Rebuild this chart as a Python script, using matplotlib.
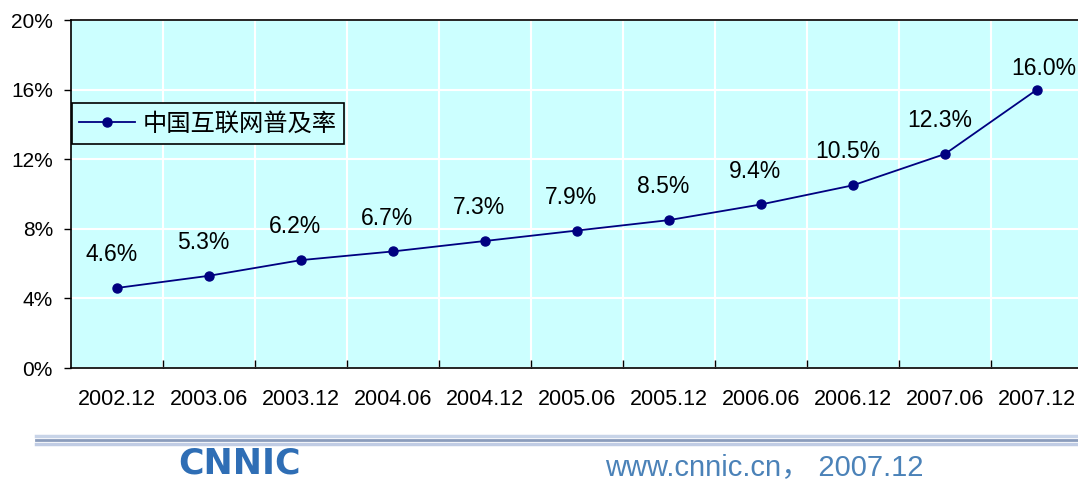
import matplotlib
matplotlib.use("Agg")
import matplotlib.pyplot as plt
from matplotlib.lines import Line2D

categories = ["2002.12", "2003.06", "2003.12", "2004.06", "2004.12", "2005.06",
              "2005.12", "2006.06", "2006.12", "2007.06", "2007.12"]
rates = [4.6, 5.3, 6.2, 6.7, 7.3, 7.9, 8.5, 9.4, 10.5, 12.3, 16.0]
yticks = [0, 4, 8, 12, 16, 20]
series_name = "中国互联网普及率"

plt.rcParams['font.family'] = ['Liberation Sans', 'DejaVu Sans']

fig = plt.figure(figsize=(10.78, 4.82), dpi=100)
W, H = 1078, 482
ax = fig.add_axes([71 / W, (H - 368) / H, 1012 / W, 348 / H])
ax.set_facecolor("#CCFFFF")

x = list(range(len(categories)))
ax.plot(x, rates, color="#000080", lw=1.3, marker="o", ms=6.5, zorder=3,
        label=series_name, clip_on=False)

for i, v in enumerate(rates):
    off = 24 if i < len(rates) - 1 else 15
    dx = -4 if i < len(rates) - 1 else 5
    ax.annotate(f"{v:.1f}%", (i, v), xytext=(dx, off), textcoords="offset points",
                ha="center", va="center", fontsize=16.5, color="black")

ax.set_xlim(-0.5, len(categories) - 0.5)
ax.set_ylim(0, 20)
ax.set_yticks(yticks)
ax.set_yticklabels([f"{t}%" for t in yticks], fontsize=15)
ax.tick_params(axis="y", direction="out", length=5, width=1, pad=8)

ax.set_xticks([i - 0.5 for i in range(1, len(categories))])
ax.set_xticklabels([])
ax.tick_params(axis="x", which="major", direction="in", length=6, width=1)
ax.set_xticks(x, minor=True)
ax.set_xticklabels(categories, minor=True, fontsize=15.5)
ax.tick_params(axis="x", which="minor", length=0, pad=15)

ax.grid(True, which="major", color="white", lw=1.5)
ax.set_axisbelow(True)
for s in ["left", "bottom", "top"]:
    ax.spines[s].set_color("black")
    ax.spines[s].set_linewidth(1.2)
ax.spines["right"].set_visible(False)

leg = ax.legend(loc="upper left", bbox_to_anchor=(0.001, 0.761), frameon=True,
                fancybox=False, edgecolor="black", facecolor="#CCFFFF", framealpha=1,
                prop={"family": ["Noto Sans CJK SC", "DejaVu Sans"], "size": 17.5},
                handlelength=2.3, borderpad=0.3, handletextpad=0.3, borderaxespad=0)
leg.get_frame().set_linewidth(1.2)

# footer decoration
for yy, c, lw in [(436, "#c8d4e8", 2.5), (440, "#8a9cbc", 2.0), (444, "#c0cce4", 2.5)]:
    fig.add_artist(Line2D([36 / W, 1.0], [1 - yy / H, 1 - yy / H], color=c, lw=lw,
                          transform=fig.transFigure))

fig.text(178 / W, 1 - 481 / H, "CNNIC", fontsize=25, fontweight="bold", color="#2f6eb5",
         ha="left", va="bottom", family=["DejaVu Sans"])
fig.text(605 / W, 1 - 467 / H, "www.cnnic.cn， 2007.12", fontsize=21, color="#4b82b8",
         ha="left", va="center", family=["Liberation Sans", "Noto Sans CJK SC"])

fig.savefig("out.png", dpi=100)
